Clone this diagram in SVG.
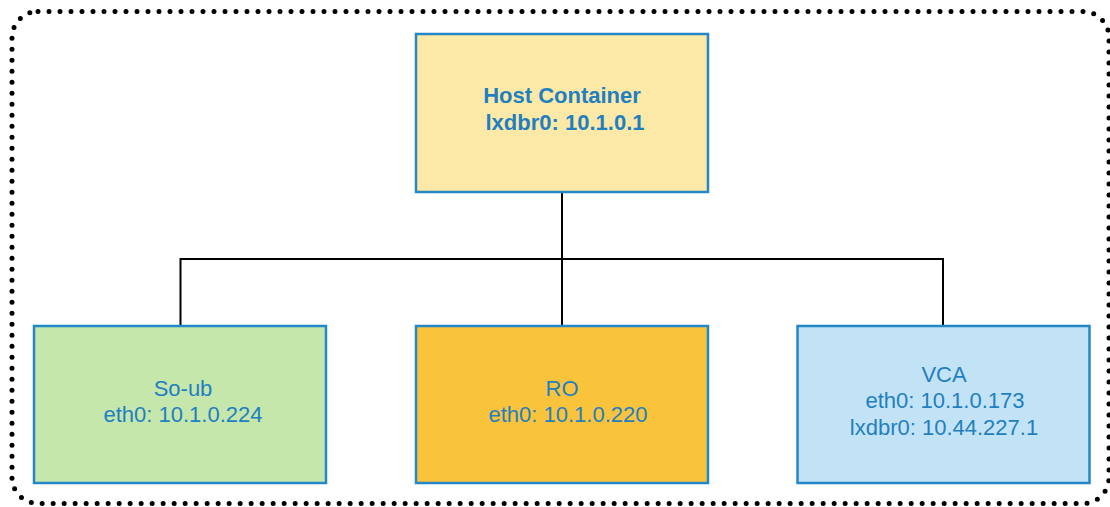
<svg xmlns="http://www.w3.org/2000/svg" width="1110" height="507" viewBox="0 0 1110 507">
  <style>
    .frame { fill: none; stroke: #000; stroke-width: 5; stroke-dasharray: 0 11; stroke-linecap: round; }
    .box { stroke: #2387c8; stroke-width: 2.5; }
    .wire { fill: none; stroke: #000; stroke-width: 2; }
    .lbl { font-family: "Liberation Sans", Arial, sans-serif; font-size: 22px; fill: #1f7fc0; text-anchor: middle; }
    .bold { font-weight: bold; }
  </style>

  <!-- dotted boundary of the host -->
  <rect class="frame" x="12" y="11.5" width="1097" height="492" rx="26"/>

  <!-- links from the host bridge to each container -->
  <g id="connectors">
    <path class="wire" d="M562 192 V259"/>
    <path class="wire" d="M180.5 326 V259 H943 V326"/>
    <path class="wire" d="M562 259 V326"/>
  </g>

  <g id="host-container">
    <rect class="box" x="416" y="34" width="292" height="158" fill="#fde9a7"/>
    <text class="lbl bold" x="562" y="103">Host Container</text>
    <text class="lbl bold" x="565" y="130">lxdbr0: 10.1.0.1</text>
  </g>

  <g id="so-ub">
    <rect class="box" x="34" y="326" width="292" height="157" fill="#c5e7ac"/>
    <text class="lbl" x="183" y="396">So-ub</text>
    <text class="lbl" x="183" y="422">eth0: 10.1.0.224</text>
  </g>

  <g id="ro">
    <rect class="box" x="416" y="326" width="292" height="157" fill="#fac33c"/>
    <text class="lbl" x="562" y="396">RO</text>
    <text class="lbl" x="568" y="422">eth0: 10.1.0.220</text>
  </g>

  <g id="vca">
    <rect class="box" x="797.5" y="326" width="292" height="157" fill="#c2e3f5"/>
    <text class="lbl" x="944" y="382">VCA</text>
    <text class="lbl" x="945" y="408">eth0: 10.1.0.173</text>
    <text class="lbl" x="944" y="435">lxdbr0: 10.44.227.1</text>
  </g>
</svg>
